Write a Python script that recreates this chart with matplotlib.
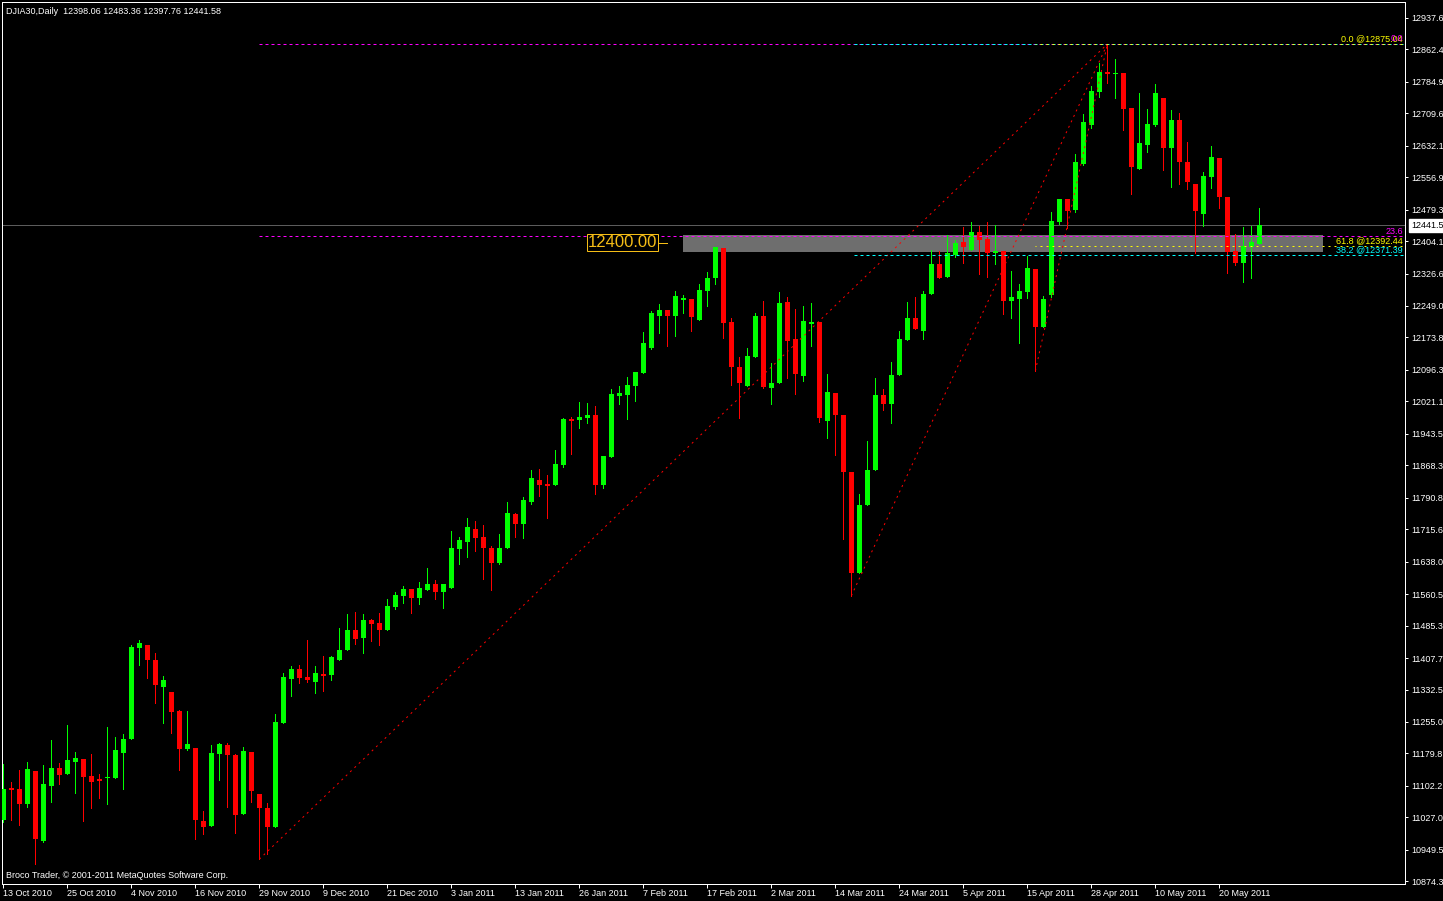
import numpy as np
import matplotlib
matplotlib.use('Agg')
import matplotlib.pyplot as plt
import matplotlib.transforms as mtransforms
from matplotlib.patches import Rectangle

plt.rcParams['font.family'] = ['Liberation Sans', 'DejaVu Sans']
plt.rcParams['lines.scale_dashes'] = False

# ---------------- data ----------------
symbol = 'DJIA30,Daily'

opens = [
    11020, 11097, 11094, 11058, 11137, 10970, 11101, 11144, 11130, 11159,
    11166, 11125, 11118, 11121, 11121, 11180, 11214, 11431, 11438, 11403,
    11338, 11326, 11281, 11190, 11192, 11018, 11006, 11178, 11199, 11175,
    11035, 11183, 11082, 11049, 11003, 11252, 11357, 11381, 11362, 11350,
    11369, 11367, 11403, 11426, 11474, 11455, 11498, 11491, 11474, 11529,
    11556, 11572, 11551, 11570, 11584, 11565, 11575, 11668, 11685, 11716,
    11697, 11670, 11634, 11670, 11752, 11728, 11780, 11833, 11823, 11821,
    11869, 11979, 11976, 11981, 11988, 11821, 11888, 12034, 12036, 12057,
    12088, 12148, 12225, 12239, 12225, 12263, 12265, 12215, 12284, 12316,
    12387, 12210, 12103, 12057, 12127, 12225, 12053, 12065, 12258, 12170,
    12081, 12208, 12210, 11974, 12041, 11988, 11852, 11611, 11773, 11857,
    12036, 12014, 12084, 12167, 12220, 12189, 12277, 12349, 12318, 12371,
    12402, 12382, 12425, 12409, 12375, 12380, 12261, 12265, 12282, 12337,
    12199, 12275, 12449, 12504, 12478, 12588, 12681, 12760, 12808, 12803,
    12806, 12722, 12576, 12633, 12681, 12746, 12626, 12693, 12593, 12540,
    12469, 12557, 12602, 12509, 12380, 12351, 12390, 12398.06]

highs = [
    11154, 11111, 11140, 11159, 11139, 11152, 11211, 11156, 11247, 11183,
    11166, 11178, 11130, 11242, 11219, 11226, 11438, 11450, 11438, 11419,
    11364, 11326, 11283, 11281, 11192, 11042, 11199, 11204, 11204, 11178,
    11195, 11183, 11082, 11061, 11274, 11372, 11388, 11391, 11450, 11388,
    11412, 11412, 11479, 11512, 11517, 11512, 11501, 11515, 11548, 11565,
    11580, 11572, 11589, 11622, 11594, 11584, 11711, 11697, 11742, 11735,
    11725, 11675, 11704, 11780, 11754, 11792, 11857, 11859, 11845, 11904,
    11981, 11983, 12019, 12017, 12010, 11890, 12050, 12057, 12079, 12091,
    12186, 12237, 12253, 12239, 12284, 12275, 12265, 12301, 12330, 12390,
    12387, 12220, 12127, 12148, 12232, 12261, 12112, 12282, 12270, 12241,
    12249, 12256, 12210, 12086, 12041, 11988, 11852, 11799, 11926, 12077,
    12050, 12115, 12189, 12258, 12270, 12284, 12382, 12380, 12418, 12406,
    12437, 12449, 12440, 12449, 12442, 12380, 12332, 12301, 12368, 12337,
    12273, 12473, 12504, 12504, 12612, 12708, 12774, 12829, 12875.04, 12839,
    12806, 12722, 12758, 12720, 12779, 12746, 12717, 12710, 12641, 12540,
    12569, 12631, 12602, 12509, 12421, 12437, 12440, 12483.36]

lows = [
    11015, 11020, 11008, 11051, 10915, 10968, 11063, 11106, 11130, 11085,
    11018, 11049, 11073, 11058, 11121, 11094, 11214, 11391, 11360, 11300,
    11252, 11228, 11140, 11187, 10975, 10987, 11006, 11116, 11051, 10989,
    11035, 11063, 10927, 10939, 11003, 11252, 11317, 11348, 11350, 11324,
    11328, 11355, 11403, 11426, 11441, 11419, 11448, 11438, 11474, 11525,
    11539, 11515, 11536, 11570, 11548, 11527, 11575, 11632, 11649, 11663,
    11596, 11570, 11632, 11670, 11697, 11694, 11775, 11795, 11742, 11821,
    11864, 11895, 11957, 11969, 11799, 11814, 11888, 12014, 11979, 12022,
    12088, 12146, 12184, 12153, 12177, 12232, 12189, 12215, 12249, 12301,
    12172, 12060, 11981, 12057, 12127, 12053, 12014, 12065, 12077, 12038,
    12069, 12153, 11971, 11933, 11893, 11692, 11556.58, 11611, 11773, 11857,
    12000, 11969, 12084, 12167, 12194, 12170, 12277, 12316, 12318, 12366,
    12351, 12382, 12325, 12318, 12349, 12230, 12220, 12160, 12268, 12094.13,
    12199, 12270, 12445, 12435, 12473, 12586, 12674, 12748, 12782, 12746,
    12669, 12516, 12576, 12617, 12679, 12574, 12533, 12540, 12528, 12375,
    12440, 12531, 12483, 12328, 12347, 12306, 12316, 12397.76]

closes = [
    11094, 11092, 11058, 11142, 10975, 11106, 11144, 11128, 11164, 11168,
    11123, 11111, 11116, 11123, 11187, 11214, 11434, 11443, 11403, 11343,
    11355, 11278, 11190, 11202, 11020, 11003, 11180, 11202, 11175, 11032,
    11185, 11090, 11049, 11003, 11254, 11362, 11381, 11360, 11355, 11372,
    11367, 11410, 11426, 11474, 11453, 11498, 11489, 11474, 11532, 11558,
    11572, 11551, 11575, 11584, 11565, 11584, 11670, 11689, 11720, 11694,
    11670, 11634, 11670, 11754, 11728, 11785, 11838, 11821, 11818, 11871,
    11979, 11974, 11983, 11988, 11821, 11890, 12038, 12041, 12060, 12091,
    12160, 12232, 12239, 12225, 12273, 12268, 12222, 12287, 12316, 12390,
    12208, 12103, 12065, 12129, 12225, 12055, 12065, 12256, 12165, 12086,
    12213, 12210, 11981, 12043, 11988, 11852, 11611, 11773, 11857, 12036,
    12014, 12084, 12170, 12220, 12194, 12277, 12349, 12316, 12375, 12399,
    12390, 12425, 12406, 12375, 12380, 12261, 12270, 12284, 12340, 12199,
    12265, 12452, 12504, 12476, 12593, 12688, 12762, 12808, 12803, 12806,
    12720, 12581, 12638, 12684, 12758, 12626, 12693, 12593, 12545, 12476,
    12559, 12605, 12509, 12378, 12351, 12392, 12402, 12441.58]

date_labels = ['13 Oct 2010', '25 Oct 2010', '4 Nov 2010', '16 Nov 2010',
               '29 Nov 2010', '9 Dec 2010', '21 Dec 2010', '3 Jan 2011',
               '13 Jan 2011', '26 Jan 2011', '7 Feb 2011', '17 Feb 2011',
               '2 Mar 2011', '14 Mar 2011', '24 Mar 2011', '5 Apr 2011',
               '15 Apr 2011', '28 Apr 2011', '10 May 2011', '20 May 2011']
bars_per_label = 8

price_labels = ['12937.6', '12862.4', '12784.9', '12709.6', '12632.1', '12556.9',
                '12479.3', '12404.1', '12326.6', '12249.0', '12173.8', '12096.3',
                '12021.1', '11943.5', '11868.3', '11790.8', '11715.6', '11638.0',
                '11560.5', '11485.3', '11407.7', '11332.5', '11255.0', '11179.8',
                '11102.2', '11027.0', '10949.5', '10874.3']

zone_prices = (12379.0, 12419.0)
zone_bars = (85, 165)
hline_price = 12400.00
hline_bar = 83

fib_high_bar = 138
# (anchor low bar, colour, levels shown, label with price?)
fibs = [
    (32, '#ff00ff', [0.0, 23.6], False),
    (106, '#00ffff', [0.0, 38.2], True),
    (129, '#ffff00', [0.0, 61.8], True),
]

copyright_text = 'Broco Trader, \u00a9 2001-2011 MetaQuotes Software Corp.'

# ---------------- figure ----------------
W, H = 1443, 901
fig = plt.figure(figsize=(W / 100, H / 100), dpi=100, facecolor='black')
ax = fig.add_axes([2 / W, (H - 884) / H, (1405 - 2) / W, (884 - 2) / H])
ax.set_facecolor('black')

o = np.asarray(opens, float)
h = np.asarray(highs, float)
l = np.asarray(lows, float)
c = np.asarray(closes, float)
n = len(o)
x = np.arange(n)

ax.set_xlim(-0.1625, 175.2)
ax.set_ylim(10867.8, 12975.4)

PX = 0.72  # one pixel in points
trans = mtransforms.blended_transform_factory(ax.transAxes, ax.transData)

# zone rectangle
ax.add_patch(Rectangle((zone_bars[0], zone_prices[0]), zone_bars[1] - zone_bars[0],
                       zone_prices[1] - zone_prices[0], facecolor='#6e6e6e',
                       edgecolor='none', zorder=1))

# current price line
ax.axhline(c[-1], color='#5c5c5c', lw=PX, zorder=2)

# candles
up = c >= o
cols = np.where(up, '#00ff00', '#ff0000')
ax.vlines(x, l, h, colors=cols, linewidth=PX, zorder=3, antialiased=False)
body = np.abs(c - o)
bh = np.maximum(body, 4.0)
mid = (o + c) / 2
ax.bar(x, bh, bottom=mid - bh / 2, width=0.625, color=cols, linewidth=0,
       zorder=3.5, antialiased=False)

# fibonacci objects
fib_high = h[fib_high_bar]
xr = ax.get_xlim()[1]
dash_offsets = {'#ff00ff': 0, '#00ffff': 3, '#ffff00': 1}
labels = {}
for lb, col, levels, with_price in fibs:
    low = l[lb]
    ax.plot([lb, fib_high_bar], [low, fib_high], color='#ff0000', lw=PX,
            ls=(0, (2 * PX, 4 * PX)), zorder=4)
    for lev in levels:
        p = fib_high - lev / 100.0 * (fib_high - low)
        if col == '#ffff00':
            ls = (dash_offsets[col] * PX, (2 * PX, 4 * PX))
        else:
            ls = (dash_offsets[col] * PX, (3 * PX, 3 * PX))
        ax.plot([lb, xr], [p, p], color=col, lw=PX, ls=ls, zorder=4)
        txt = f'{lev:.1f} @{p:.2f}' if with_price else f'{lev:.1f}'
        labels[txt] = (p, col)   # a later identical label covers the earlier one

for txt, (p, col) in labels.items():
    ax.text(1 - 2 / 1403, p + 1.5, txt, transform=trans, ha='right',
            va='bottom', color=col, fontsize=6.5,
            zorder=7 if col == '#ff00ff' else 6)

# price label object 12400.00
gold = '#f5bd16'
ax.plot([hline_bar - 1.25, hline_bar], [hline_price, hline_price], color=gold,
        lw=PX, zorder=5)
ax.text(hline_bar - 1.25, hline_price, f'{hline_price:.2f}', ha='right',
        va='center', color=gold, fontsize=12, zorder=6,
        bbox=dict(boxstyle='square,pad=0.06', facecolor='black',
                  edgecolor=gold, linewidth=PX))

# current price box on the right scale
ax.annotate(f'{c[-1]:.2f}', xy=(1, c[-1]), xycoords=trans, xytext=(4.3, 0),
            textcoords='offset points', ha='left', va='center', color='black',
            fontsize=6.5, annotation_clip=False, zorder=10,
            bbox=dict(boxstyle='square,pad=0.18', facecolor='white',
                      edgecolor='white'))

# axes styling
for s in ax.spines.values():
    s.set_color('white')
    s.set_linewidth(PX)
ax.yaxis.tick_right()
ax.set_yticks([float(v) for v in price_labels])
ax.set_yticklabels(price_labels)
ax.tick_params(axis='y', colors='white', labelcolor='white', length=3 * PX,
               width=PX, pad=2.6, labelsize=6.5, direction='out')
ax.set_xticks(np.arange(len(date_labels)) * bars_per_label)
ax.set_xticklabels(date_labels, ha='left')
ax.tick_params(axis='x', colors='white', labelcolor='white', length=4 * PX,
               width=PX, pad=0.8, labelsize=6.5, direction='out')

header = f'{symbol}  {o[-1]:.2f} {h[-1]:.2f} {l[-1]:.2f} {c[-1]:.2f}'
fig.text(6 / W, 1 - 13.5 / H, header, color='white', fontsize=6.5, va='baseline')
fig.text(6 / W, 1 - 878.5 / H, copyright_text, color='white', fontsize=6.5,
         va='baseline')

fig.savefig('out.png', dpi=100, facecolor='black')
